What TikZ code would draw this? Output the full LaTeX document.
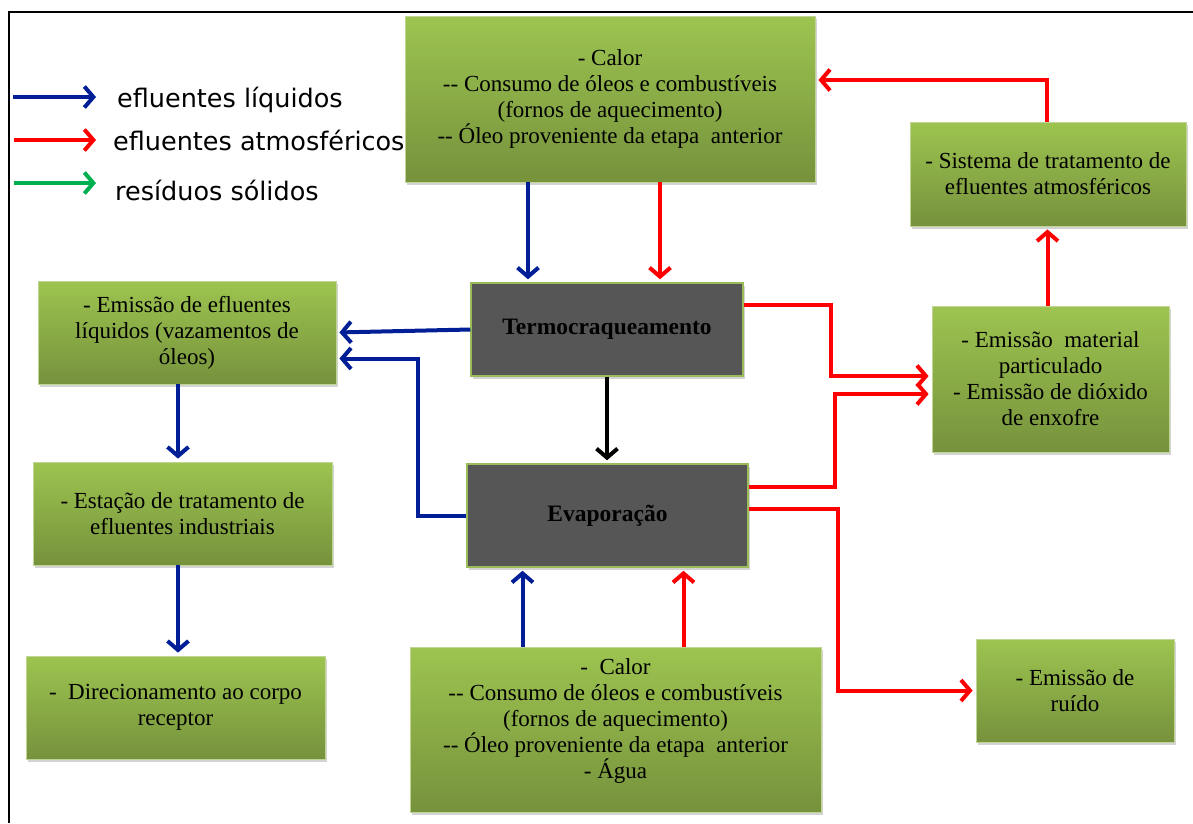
\documentclass[tikz,border=0pt]{standalone}
\usepackage{fontspec}
\setmainfont{Liberation Serif}
\newfontfamily\legfont{DejaVu Sans}
\usetikzlibrary{arrows.meta,shadows}

\definecolor{grtop}{RGB}{157,196,80}
\definecolor{grbot}{RGB}{118,146,60}
\definecolor{grline}{RGB}{192,212,150}
\definecolor{darkfill}{RGB}{86,86,86}
\definecolor{darkline}{RGB}{155,187,89}
\definecolor{liqblue}{RGB}{0,30,150}
\definecolor{solgreen}{RGB}{0,176,80}

\begin{document}
\begin{tikzpicture}[x=1pt, y=-1pt,
  box/.style={draw=grline, line width=0.8pt, top color=grtop, bottom color=grbot,
    drop shadow={shadow xshift=1.5pt, shadow yshift=-2.5pt, opacity=0.35},
    align=center, inner sep=0pt, font=\fontsize{23}{26}\selectfont},
  dark/.style={draw=darkline, line width=1.5pt, fill=darkfill,
    drop shadow={shadow xshift=1.5pt, shadow yshift=-2.5pt, opacity=0.35},
    align=center, inner sep=0pt, font=\bfseries\fontsize{23.5}{26}\selectfont},
  leg/.style={anchor=west, inner sep=0pt, font=\legfont\fontsize{25.5}{30}\selectfont},
  flow/.style={line width=4pt, -{Straight Barb[length=9pt,width=21pt]}, shorten >=3pt},
  liq/.style={flow, draw=liqblue},
  atm/.style={flow, draw=red},
  sol/.style={flow, draw=solgreen},
  proc/.style={flow, draw=black}
]
  \useasboundingbox (0,0) rectangle (1193,823);
  \draw[line width=2.5pt] (9,823) -- (9,12) -- (1193,12);

  % legenda
  \coordinate (l1) at (13,97);
  \coordinate (l2) at (14,140);
  \coordinate (l3) at (14,183);
  \node[leg] (t1) at (117,100) {efluentes líquidos};
  \node[leg] (t2) at (113,140) {efluentes atmosféricos};
  \node[leg] (t3) at (115,190) {resíduos sólidos};
  \draw[liq, shorten >=21pt] (l1) -- (l1 -| t1.west);
  \draw[atm, shorten >=17pt] (l2) -- (l2 -| t2.west);
  \draw[sol, shorten >=19pt] (l3) -- (l3 -| t3.west);

  % caixas
  \node[box, minimum width=410pt, minimum height=166pt] (topbox) at (610,99)
    {- Calor\\-{}- Consumo de óleos e combustíveis\\(fornos de aquecimento)\\-{}- Óleo proveniente da etapa\ \ anterior};
  \node[box, minimum width=276pt, minimum height=104pt] (sistema) at (1048,174)
    {- Sistema de tratamento de\\efluentes atmosféricos};
  \node[dark, minimum width=272pt, minimum height=93pt] (termo) at (607,329.5) {Termocraqueamento};
  \node[dark, minimum width=281pt, minimum height=103pt] (evap) at (607.5,515.5) {Evaporação};
  \node[box, minimum width=298pt, minimum height=103pt] (efl) at (187,332.5)
    {- Emissão de efluentes\\líquidos (vazamentos de\\óleos)};
  \node[box, minimum width=299pt, minimum height=103pt] (estacao) at (182.5,513.5)
    {- Estação de tratamento de\\efluentes industriais};
  \node[box, minimum width=299pt, minimum height=103pt] (direc) at (175.5,707.5)
    {-\ \ Direcionamento ao corpo\\receptor};
  \node[box, minimum width=237pt, minimum height=146pt] (material) at (1050.5,379)
    {- Emissão\ \ material\\particulado\\- Emissão de dióxido\\de enxofre};
  \node[box, minimum width=411pt, minimum height=165pt] (calorb) at (615.5,729.5)
    {-\ \ Calor\\-{}- Consumo de óleos e combustíveis\\(fornos de aquecimento)\\-{}- Óleo proveniente da etapa\ \ anterior\\- Água\\[-4pt]\mbox{}};
  \node[box, minimum width=198pt, minimum height=103pt] (ruido) at (1075,690.5)
    {- Emissão de\\ruído};

  % ligacoes
  \draw[liq] ([xshift=-82pt]topbox.south) -- ([xshift=-82pt]topbox.south |- termo.north);
  \draw[atm] ([xshift=50pt]topbox.south) -- ([xshift=50pt]topbox.south |- termo.north);
  \draw[proc] (termo.south) -- (termo.south |- evap.north);
  \draw[liq] ([xshift=-93pt]calorb.north) -- ([xshift=-93pt]calorb.north |- evap.south);
  \draw[atm] ([xshift=68pt]calorb.north) -- ([xshift=68pt]calorb.north |- evap.south);
  \draw[liq] (termo.west) -- (efl.east);
  \draw[liq] (evap.west) -- ++(-48,0) |- ([yshift=-26pt]efl.east);
  \draw[liq] ([xshift=-9pt]efl.south) -- ([xshift=-9pt]efl.south |- estacao.north);
  \draw[liq] ([xshift=-4.5pt]estacao.south) -- ([xshift=-4.5pt]estacao.south |- direc.north);
  \draw[atm] ([yshift=25pt]termo.east) -- ++(87,0) |- ([yshift=3pt]material.west);
  \draw[atm] ([yshift=29pt]evap.east) -- ++(86,0) |- ([yshift=-15pt]material.west);
  \draw[atm] ([yshift=7pt]evap.east) -- ++(89,0) |- (ruido.west);
  \draw[atm] ([xshift=-3pt]material.north) -- ([xshift=-3pt]material.north |- sistema.south);
  \draw[atm] ([xshift=-1pt]sistema.north) |- ([yshift=19pt]topbox.east);
\end{tikzpicture}
\end{document}
